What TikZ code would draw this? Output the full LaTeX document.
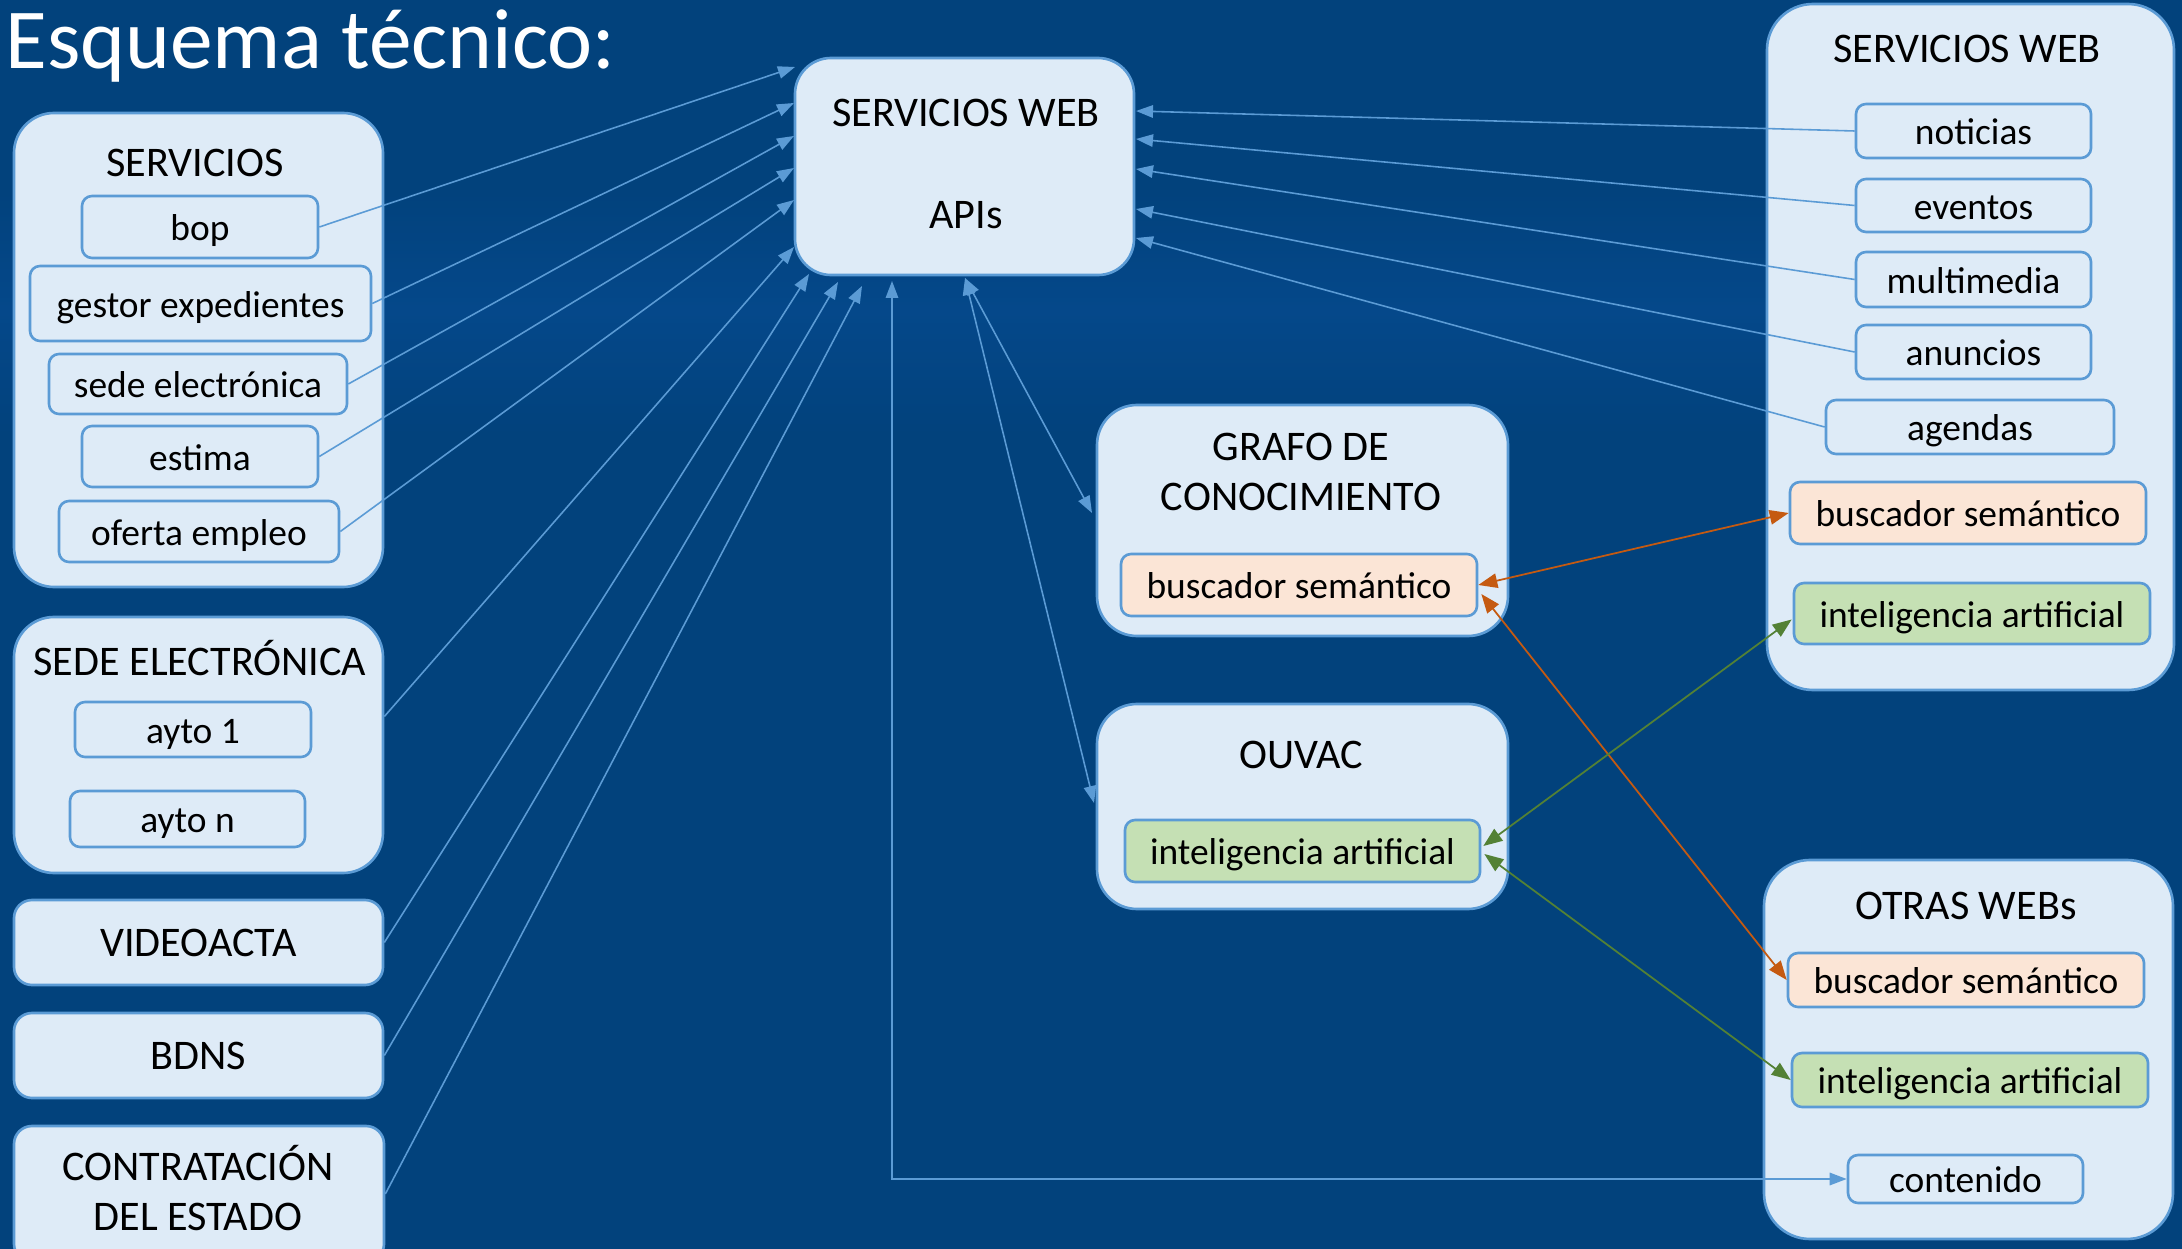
\documentclass[tikz,border=0pt]{standalone}
\usepackage{fontspec}
\setmainfont{Carlito}
\usetikzlibrary{arrows.meta,calc}
\definecolor{bgc}{HTML}{02427C}
\definecolor{bandc}{HTML}{0A52A0}
\definecolor{boxfill}{HTML}{DEEBF7}
\definecolor{bdr}{HTML}{5B9BD5}
\definecolor{orfill}{HTML}{FBE5D6}
\definecolor{orline}{HTML}{C55A11}
\definecolor{grfill}{HTML}{C5E0B4}
\definecolor{grline}{HTML}{538135}
\newcommand\twoline[2]{\begin{tabular}[t]{@{}c@{}}#1\\#2\end{tabular}}
% \bx{style}{x1}{y1}{x2}{y2}{name}{text}
\newcommand\bx[7]{\node[#1, minimum width={(#4-#2)*0.1mm}, minimum height={(#5-#3)*0.1mm}] (#6) at ({(#2+#4)/2},{(#3+#5)/2}) {#7};}
\begin{document}
\begin{tikzpicture}[x=0.1mm,y=-0.1mm,
  cont/.style={draw=bdr, fill=boxfill, line width=0.75pt, rounded corners=4mm, inner sep=0pt},
  bigcont/.style={cont, rounded corners=4.6mm},
  apibox/.style={cont, rounded corners=3.6mm},
  item/.style={draw=bdr, fill=boxfill, line width=0.75pt, rounded corners=1mm, inner sep=0pt,
    font=\fontsize{10.65}{12.8}\selectfont, text height=9.9pt, text depth=2.1pt},
  solo/.style={draw=bdr, fill=boxfill, line width=0.75pt, rounded corners=1.8mm, inner sep=0pt,
    font=\fontsize{12}{14.5}\selectfont, text height=10.2pt, text depth=2.5pt},
  oritem/.style={item, fill=orfill},
  gritem/.style={item, fill=grfill},
  head/.style={anchor=base, inner sep=0pt, font=\fontsize{12}{14.5}\selectfont},
  bl/.style={draw=bdr, line width=0.45pt, -{Triangle[length=1.7mm,width=1.25mm]}},
  blb/.style={draw=bdr, line width=0.45pt, {Triangle[length=1.7mm,width=1.25mm]}-{Triangle[length=1.7mm,width=1.25mm]}},
  orl/.style={draw=orline, line width=0.5pt, {Triangle[length=1.9mm,width=1.45mm]}-{Triangle[length=1.9mm,width=1.45mm]}},
  grl/.style={draw=grline, line width=0.5pt, {Triangle[length=1.9mm,width=1.45mm]}-{Triangle[length=1.9mm,width=1.45mm]}}
]
\clip (0,0) rectangle (2182,1249);
\fill[bgc] (0,0) rectangle (2182,1249);
\shade[top color=bgc, bottom color=bgc, middle color=bandc, opacity=0.4] (0,180) rectangle (2182,440);

\node[anchor=base west, inner sep=0pt, text=white, font=\fontsize{24.3}{28}\selectfont] (title) at (5,69) {Esquema técnico:};

% left column
\bx{cont}{14}{113}{383}{587}{servC}{}
\node[head] (servT) at (195,177) {SERVICIOS};
\bx{item}{82}{196}{318}{258}{bop}{bop}
\bx{item}{30}{266}{371}{341}{gestor}{gestor expedientes}
\bx{item}{49}{354}{347}{414}{sedeI}{sede electrónica}
\bx{item}{82}{426}{318}{487}{estima}{estima}
\bx{item}{59}{501}{339}{562}{oferta}{oferta empleo}

\bx{cont}{14}{617}{383}{873}{sedeC}{}
\node[head] (sedeT) at (200,675) {SEDE ELECTRÓNICA};
\bx{item}{75}{702}{311}{757}{ayto1}{ayto 1}
\bx{item}{70}{791}{305}{847}{aytoN}{ayto n}

\bx{solo}{14}{900}{383}{985}{video}{VIDEOACTA}
\bx{solo}{14}{1013}{383}{1098}{bdns}{BDNS}
\bx{solo}{14}{1126}{384}{1262}{contr}{}
\node[head] (contrT) at (198,1180) {\twoline{CONTRATACIÓN}{DEL ESTADO}};

% central
\bx{apibox}{795}{58}{1134}{275}{api}{}
\node[head] (apiT1) at (966,127) {SERVICIOS WEB};
\node[head] (apiT2) at (966,229) {APIs};

\bx{cont}{1097}{405}{1508}{636}{grafo}{}
\node[head] (grafoT) at (1301,460) {\twoline{GRAFO DE}{CONOCIMIENTO}};
\bx{oritem}{1121}{554}{1477}{616}{gbus}{buscador semántico}

\bx{cont}{1097}{704}{1508}{909}{ouvac}{}
\node[head] (ouvacT) at (1301,768) {OUVAC};
\bx{gritem}{1125}{820}{1480}{882}{ointel}{inteligencia artificial}

% right column
\bx{bigcont}{1767}{4}{2174}{690}{rsw}{}
\node[head] (rswT) at (1967,63) {SERVICIOS WEB};
\bx{item}{1856}{104}{2091}{158}{noticias}{noticias}
\bx{item}{1856}{179}{2091}{232}{eventos}{eventos}
\bx{item}{1856}{252}{2091}{307}{multimedia}{multimedia}
\bx{item}{1856}{325}{2091}{379}{anuncios}{anuncios}
\bx{item}{1826}{400}{2114}{454}{agendas}{agendas}
\bx{oritem}{1790}{482}{2146}{544}{rbus}{buscador semántico}
\bx{gritem}{1794}{583}{2150}{644}{rintel}{inteligencia artificial}

\bx{bigcont}{1764}{860}{2173}{1239}{otras}{}
\node[head] (otrasT) at (1966,919) {OTRAS WEBs};
\bx{oritem}{1788}{953}{2144}{1007}{obus}{buscador semántico}
\bx{gritem}{1792}{1053}{2148}{1107}{ointel2}{inteligencia artificial}
\bx{item}{1848}{1155}{2083}{1203}{contenido}{contenido}

% arrow end points at the central box
\coordinate (a1) at (795,67);
\coordinate (a2) at (794,103);
\coordinate (a3) at (794,136);
\coordinate (a4) at (794,168);
\coordinate (a5) at (794,200);
\coordinate (a6) at (794,247);
\coordinate (a7) at (809,274);
\coordinate (a8) at (838,282);
\coordinate (a9) at (862,286);
\coordinate (a10) at (892,281);
\coordinate (a11) at (965,278);
\coordinate (b1) at (1136,111);
\coordinate (b2) at (1136,139);
\coordinate (b3) at (1136,169);
\coordinate (b4) at (1136,209);
\coordinate (b5) at (1136,238);
\coordinate (gIn) at (1092,513);
\coordinate (oIn) at (1094,803);

% connectors from the left
\draw[bl] (bop.east) -- (a1);
\draw[bl] (gestor.east) -- (a2);
\draw[bl] (sedeI.east) -- (a3);
\draw[bl] (estima.east) -- (a4);
\draw[bl] (oferta.east) -- (a5);
\draw[bl] ($(sedeC.north east)!0.39!(sedeC.south east)$) -- (a6);
\draw[bl] (video.east) -- (a7);
\draw[bl] (bdns.east) -- (a8);
\draw[bl] (contr.east) -- (a9);

% connectors from the right
\draw[bl] (noticias.west) -- (b1);
\draw[bl] (eventos.west) -- (b2);
\draw[bl] (multimedia.west) -- (b3);
\draw[bl] (anuncios.west) -- (b4);
\draw[bl] (agendas.west) -- (b5);

% central to grafo / ouvac / contenido
\draw[blb] (a11) -- (gIn);
\draw[blb] (a11) -- (oIn);
\draw[blb] (a10) |- (contenido.west);

% semantic search and AI links
\draw[orl] (gbus.east) -- (rbus.west);
\draw[orl] ($(gbus.east)+(3,9)$) -- (obus.west);
\draw[grl] ($(ointel.east)+(2,-5)$) -- ($(rintel.west)+(-1,6)$);
\draw[grl] ($(ointel.east)+(3,3)$) -- (ointel2.west);
\end{tikzpicture}
\end{document}
